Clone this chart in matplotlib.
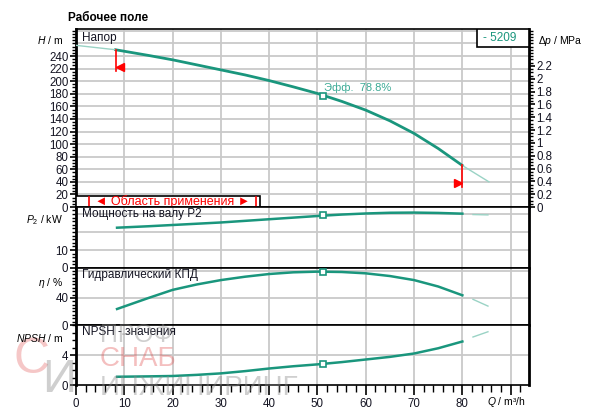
import matplotlib
matplotlib.use("Agg")
import matplotlib.pyplot as plt
from matplotlib.ticker import MultipleLocator
from matplotlib.patches import Rectangle

plt.rcParams['font.family'] = ['Liberation Sans', 'DejaVu Sans']
plt.rcParams['mathtext.fontset'] = 'custom'
plt.rcParams['mathtext.it'] = 'Liberation Sans:italic'
plt.rcParams['mathtext.rm'] = 'Liberation Sans'

# --- data ---
q_h = [8.2, 15, 20, 25, 30, 35, 40, 45, 50, 55, 60, 65, 70, 75, 80]
head = [250, 241, 234, 226, 218, 210, 201, 191, 180.5, 168, 154, 137, 117, 93, 66]
q_h_start = [0, 8.2]
head_start = [257, 250]
q_h_end = [80, 85.5]
head_end = [66, 40]

q_lo = [8.5, 15, 20, 25, 30, 35, 40, 45, 50, 55, 60, 65, 70, 75, 80]
power = [22.4, 23.2, 23.9, 24.6, 25.3, 26.2, 27.1, 28.0, 28.9, 29.7, 30.3, 30.7, 30.8, 30.6, 30.2]
eta = [23.7, 40, 52, 60, 66.5, 71.5, 75.5, 78, 79, 78.5, 76.5, 72.5, 66.5, 57, 44]
npsh = [1.1, 1.15, 1.2, 1.35, 1.55, 1.85, 2.2, 2.5, 2.75, 3.05, 3.4, 3.75, 4.2, 4.9, 5.8]

q_ext = [82.2, 85.3]
power_ext = [29.7, 29.5]
eta_ext = [38, 28]
npsh_ext = [6.4, 7.1]

q_duty = 51.2
head_duty, power_duty, eta_duty, npsh_duty = 176, 29.2, 78.8, 2.8

q_min, q_max = 8.2, 80
x_ticks = [0, 10, 20, 30, 40, 50, 60, 70, 80]
dp_ticks = [0, 0.2, 0.4, 0.6, 0.8, 1, 1.2, 1.4, 1.6, 1.8, 2, 2.2]

teal = '#1a967d'
light = '#9ad3c5'
grid_c = '#c9c9c9'
ink = '#141422'

fig = plt.figure(figsize=(6, 4.19), dpi=100)
L, W = 76 / 600, 453 / 600


def box(top, bot):
    return [L, 1 - bot / 419, W, (bot - top) / 419]


ax_h = fig.add_axes(box(29, 207))
ax_p = fig.add_axes(box(207, 268))
ax_e = fig.add_axes(box(268, 325))
ax_n = fig.add_axes(box(325, 385))


def setup(ax, ymax, labels, minor, hlines):
    ax.set_xlim(0, 93.8)
    ax.set_ylim(0, ymax)
    ax.set_yticks(labels)
    ax.yaxis.set_minor_locator(MultipleLocator(minor))
    ax.tick_params(axis='y', which='major', length=4.5, width=1.2, labelsize=8.3,
                   pad=1, labelcolor=ink)
    ax.tick_params(axis='y', which='minor', length=3, width=1)
    ax.set_xticks(range(0, 91, 10))
    ax.xaxis.set_minor_locator(MultipleLocator(2))
    ax.tick_params(axis='x', which='both', bottom=False, labelbottom=False)
    for x in range(10, 91, 10):
        ax.axvline(x, color=grid_c, lw=1.3, zorder=0)
    for y in hlines:
        ax.axhline(y, color=grid_c, lw=1.3, zorder=0)
    for s in ax.spines.values():
        s.set_linewidth(1.2)
    ax.spines['left'].set_linewidth(2)
    ax.spines['right'].set_linewidth(2)


setup(ax_h, 283, range(0, 241, 20), 5, range(20, 281, 20))
setup(ax_p, 33.9, [0, 10], 2, [10, 20, 30])
setup(ax_e, 84.4, [0, 40], 5, [40, 80])
setup(ax_n, 8, [0, 4], 1, [4])

# bottom axis ticks
ax_n.tick_params(axis='x', which='major', bottom=True, labelbottom=True,
                 length=7, width=1.2, labelsize=8.3, pad=2, labelcolor=ink)
ax_n.tick_params(axis='x', which='minor', bottom=True, length=5, width=1)
ax_n.set_xticklabels([str(v) for v in x_ticks] + [''])

# watermark (behind everything)
fig.text(100 / 600, 1 - 335 / 419, 'ПРОФ', fontsize=18, color='#888888', alpha=0.4,
         va='center', ha='left', zorder=0)
fig.text(100 / 600, 1 - 359 / 419, 'СНАБ', fontsize=20, color='#e04848', alpha=0.35,
         va='center', ha='left', zorder=0)
fig.text(100 / 600, 1 - 388 / 419, 'ИНЖИНИРИНГ', fontsize=20, color='#888888', alpha=0.4,
         va='center', ha='left', zorder=0)
fig.text(14 / 600, 1 - 360 / 419, 'С', fontsize=36, color='#e04848', alpha=0.3,
         va='center', ha='left', zorder=0)
fig.text(42 / 600, 1 - 380 / 419, 'И', fontsize=34, color='#888888', alpha=0.4,
         va='center', ha='left', zorder=0)

# head panel
ax_h.plot(q_h, head, color=teal, lw=2, zorder=3)
ax_h.plot(q_h_start, head_start, color=light, lw=1, zorder=3)
ax_h.plot(q_h_end, head_end, color=light, lw=1, zorder=3)
ax_h.plot(q_duty, head_duty, 's', ms=5, mfc='white', mec=teal, mew=1.2, zorder=4)
ax_h.text(q_duty + 0.2, head_duty + 13, 'Эфф.  78.8%', color='#3aaa95', fontsize=8, va='center')

# operating limits (red)
ax_h.plot([q_min, q_min], [head_start[1], 216], color='red', lw=1.2, zorder=4)
ax_h.plot(q_min + 1.0, 222, marker='<', color='red', ms=6, zorder=4)
ax_h.plot([q_max, q_max], [head_end[0], 31.5], color='red', lw=1.2, zorder=4)
ax_h.plot(q_max - 1.0, 38, marker='>', color='red', ms=6, zorder=4)

# application range box
ax_h.add_patch(Rectangle((0, 0), 38, 18, facecolor='white', edgecolor='black',
                         lw=1.2, zorder=5))
ax_h.text(20, 8.5, '◄ Область применения ►', color='red', fontsize=9,
          ha='center', va='center', zorder=6)
for xb in (2.7, 37.3):
    ax_h.plot([xb, xb], [1.5, 16], color='red', lw=1.2, zorder=6)

# pump number box
ax_h.add_patch(Rectangle((83, 254), 10.8, 29, facecolor='white', edgecolor='black',
                         lw=1.2, zorder=5))
ax_h.text(84.2, 268.5, '- 5209', color=teal, fontsize=8.5, va='center', zorder=6)

# right pressure axis
ax_dp = ax_h.twinx()
ax_dp.set_ylim(0, 283 / 101.97)
ax_dp.yaxis.set_minor_locator(MultipleLocator(0.05))
ax_dp.set_yticks(dp_ticks)
ax_dp.set_yticklabels(['%g' % v for v in dp_ticks])
ax_dp.tick_params(axis='y', which='major', length=4.5, width=1.2, labelsize=8.3,
                  pad=1, labelcolor=ink)
ax_dp.tick_params(axis='y', which='minor', length=3, width=1)
for s in ax_dp.spines.values():
    s.set_visible(False)

# lower panels
ax_p.plot(q_lo, power, color=teal, lw=1.8, zorder=3)
ax_p.plot(q_ext, power_ext, color=light, lw=1, zorder=3)
ax_p.plot(q_duty, power_duty, 's', ms=5, mfc='white', mec=teal, mew=1.2, zorder=4)

ax_e.plot(q_lo, eta, color=teal, lw=1.8, zorder=3)
ax_e.plot(q_ext, eta_ext, color=light, lw=1, zorder=3)
ax_e.plot(q_duty, eta_duty, 's', ms=5, mfc='white', mec=teal, mew=1.2, zorder=4)

ax_n.plot(q_lo, npsh, color=teal, lw=1.8, zorder=3)
ax_n.plot(q_ext, npsh_ext, color=light, lw=1, zorder=3)
ax_n.plot(q_duty, npsh_duty, 's', ms=5, mfc='white', mec=teal, mew=1.2, zorder=4)

# panel titles
for ax, name in [(ax_h, 'Напор'), (ax_p, 'Мощность на валу P2'),
                 (ax_e, 'Гидравлический КПД'), (ax_n, 'NPSH - значения')]:
    ax.text(0.014, 0.985, name, transform=ax.transAxes, fontsize=8.5,
            va='top', ha='left', color=ink, zorder=6)

# axis labels
fig.text(68 / 600, 1 - 18 / 419, 'Рабочее поле', fontsize=8.5, fontweight='bold',
         va='center', ha='left')
fig.text(63 / 600, 1 - 40 / 419, '$H$ / m', fontsize=7.5, ha='right', va='center')
fig.text(63 / 600, 1 - 220 / 419, '$P_2$ / kW', fontsize=7.5, ha='right', va='center')
fig.text(63 / 600, 1 - 283 / 419, '$\\eta$ / %', fontsize=7.5, ha='right', va='center')
fig.text(63 / 600, 1 - 338 / 419, '$NPSH$ / m', fontsize=7.5, ha='right', va='center')
fig.text(538 / 600, 1 - 41 / 419, '$\\Delta p$ / MPa', fontsize=7.5, ha='left', va='center')
fig.text(487 / 600, 1 - 402 / 419, '$Q$ / m³/h', fontsize=7.5, ha='left', va='center')

fig.savefig('out.png', dpi=100)
